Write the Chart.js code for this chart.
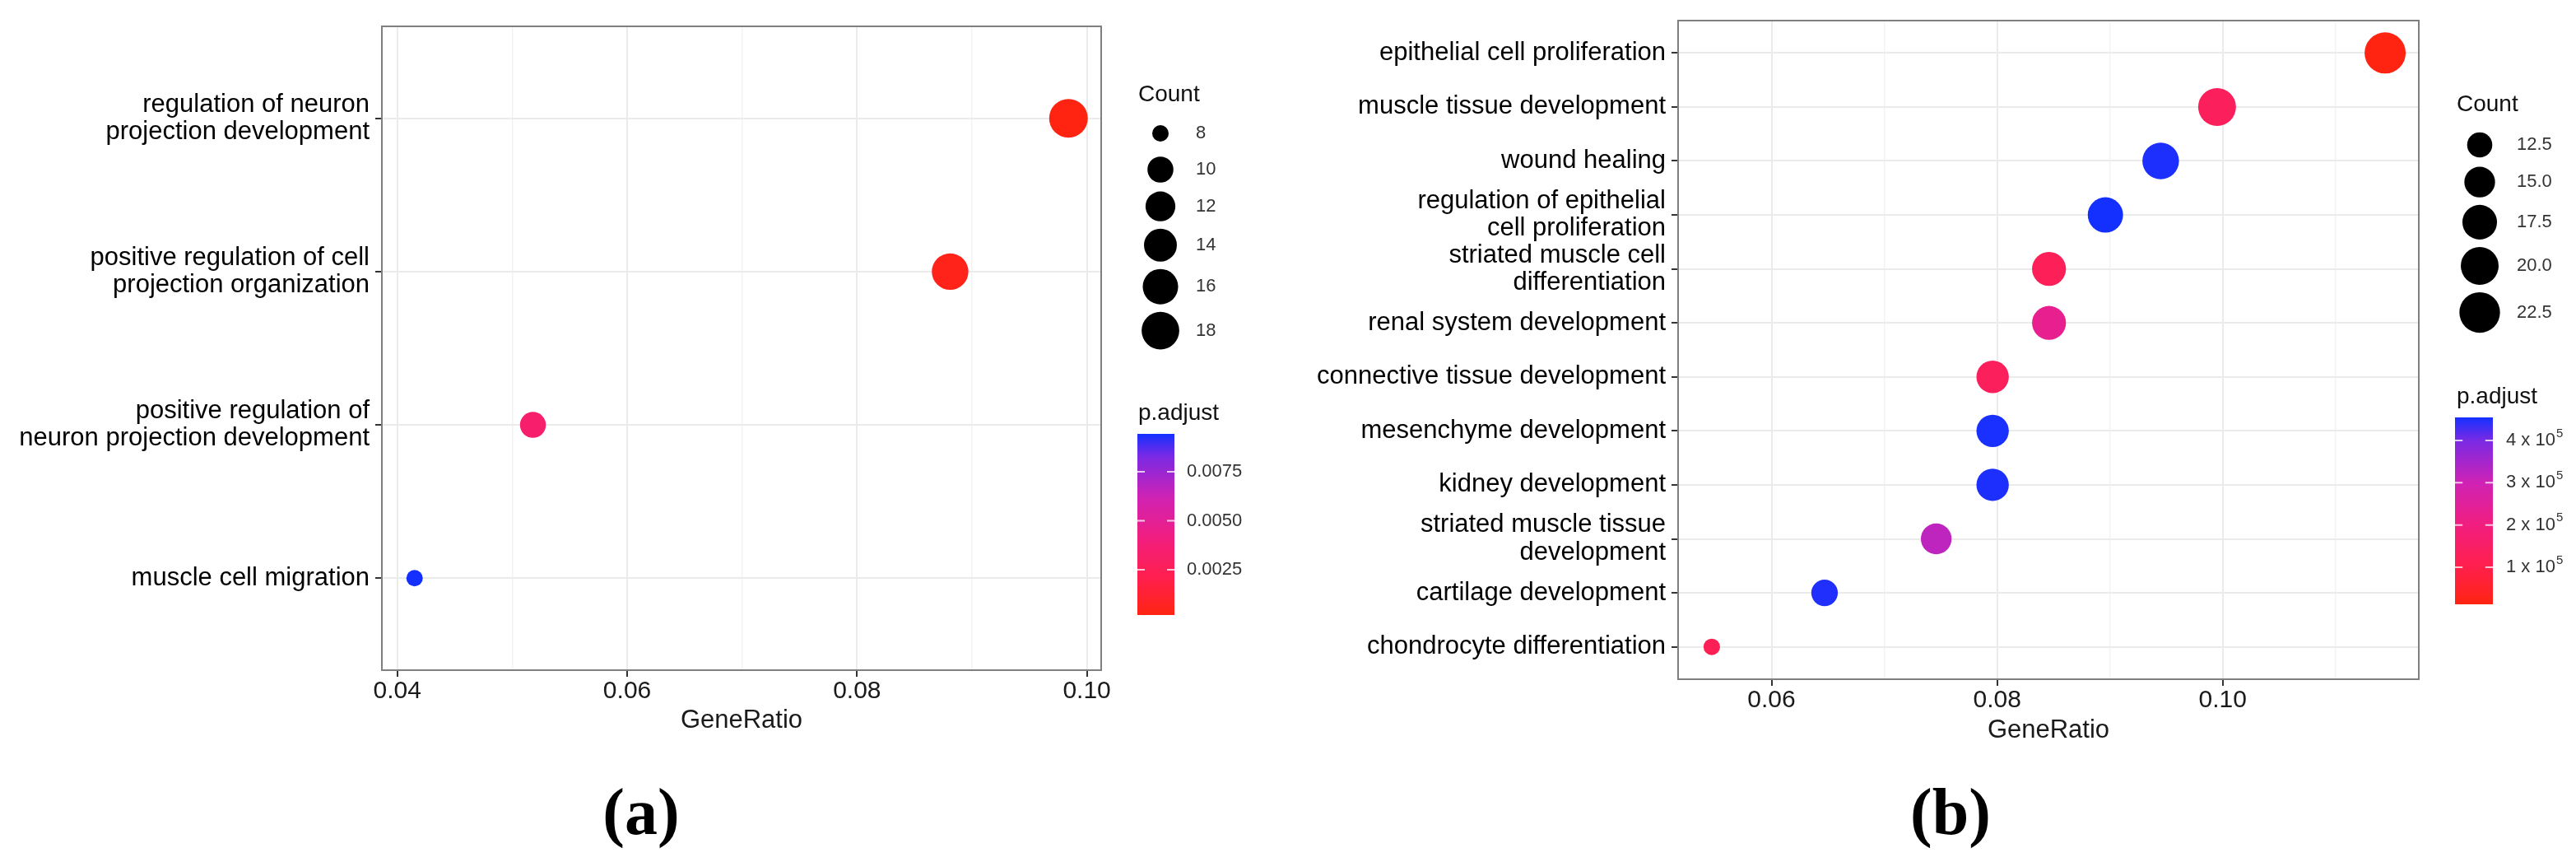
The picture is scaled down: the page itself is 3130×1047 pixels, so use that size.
<!DOCTYPE html>
<html>
<head>
<meta charset="utf-8">
<script src="https://cdn.jsdelivr.net/npm/chart.js@4.4.0/dist/chart.umd.min.js"></script>
<style>
  html, body { margin: 0; padding: 0; background: #fff; }
  #page { position: relative; width: 3130px; height: 1047px; overflow: hidden; background: #fff; }
  canvas { position: absolute; top: 0; }
  #chartA { left: 0; }
  #chartB { left: 1580px; }
  .tag { position: absolute; top: 938px; font-family: 'Liberation Serif', serif; font-weight: bold;
         font-size: 80px; line-height: 96px; transform: translateX(-50%); color: #000; }
</style>
</head>
<body>
<div id="page">
  <canvas id="chartA" width="1580" height="1047"></canvas>
  <canvas id="chartB" width="1550" height="1047"></canvas>
  <div class="tag" style="left:779px">(a)</div>
  <div class="tag" style="left:2370px">(b)</div>
</div>
<script>
// ---- panel (a) ----
const termsA = [
    'regulation of neuron\nprojection development',
    'positive regulation of cell\nprojection organization',
    'positive regulation of\nneuron projection development',
    'muscle cell migration'
];
const geneRatioA = [0.0984, 0.0881, 0.0518, 0.0415];
const countA = [19, 17, 10, 8];
const pAdjA = [0.00019, 0.0004, 0.0033, 0.00943];
const xTicksA = [0.04, 0.05, 0.06, 0.07, 0.08, 0.09, 0.10];
const xTickLabelsA = ['0.04', '', '0.06', '', '0.08', '', '0.10'];
const countBreaksA = [8, 10, 12, 14, 16, 18];
const countBreakLabelsA = ['8', '10', '12', '14', '16', '18'];
const pBreaksA = [0.0025, 0.005, 0.0075];
const pBreakLabelsA = ['0.0025', '0.0050', '0.0075'];

// ---- panel (b) ----
const termsB = [
    'epithelial cell proliferation',
    'muscle tissue development',
    'wound healing',
    'regulation of epithelial\ncell proliferation',
    'striated muscle cell\ndifferentiation',
    'renal system development',
    'connective tissue development',
    'mesenchyme development',
    'kidney development',
    'striated muscle tissue\ndevelopment',
    'cartilage development',
    'chondrocyte differentiation'
];
const geneRatioB = [0.1144, 0.0995, 0.0945, 0.0896, 0.0846, 0.0846, 0.0796, 0.0796, 0.0796, 0.0746, 0.0647, 0.0547];
const countB = [23, 20, 19, 18, 17, 17, 16, 16, 16, 15, 13, 11];
const pAdjB = [0.123, 1.3, 4.5, 4.546, 1.25, 2.3, 1.3, 4.52, 4.5, 3.2, 4.48, 1.2];
const xTicksB = [0.06, 0.07, 0.08, 0.09, 0.10, 0.11];
const xTickLabelsB = ['0.06', '', '0.08', '', '0.10', ''];
const countBreaksB = [12.5, 15, 17.5, 20, 22.5];
const countBreakLabelsB = ['12.5', '15.0', '17.5', '20.0', '22.5'];
const pBreaksB = [1, 2, 3, 4];
const pBreakLabelsB = ['1 x 10^5', '2 x 10^5', '3 x 10^5', '4 x 10^5'];

Chart.defaults.font.family = '"Liberation Sans", Arial, sans-serif';
Chart.defaults.color = '#000';

// red -> blue colour ramp, stops taken from the printed colour bar
const rampStops = [
    [0, [255, 36, 18]],
    [0.2, [255, 31, 76]],
    [0.42, [242, 30, 126]],
    [0.65, [207, 34, 180]],
    [0.876, [122, 42, 228]],
    [1, [20, 48, 255]]
];
function gradColor(t) {
    t = Math.min(1, Math.max(0, t));
    for (let k = 1; k < rampStops.length; k++) {
        const [t1, c1] = rampStops[k];
        const [t0, c0] = rampStops[k - 1];
        if (t <= t1) {
            const f = (t - t0) / (t1 - t0);
            const c = c0.map((v, j) => Math.round(v + (c1[j] - v) * f));
            return 'rgb(' + c.join(',') + ')';
        }
    }
    return 'rgb(' + rampStops[rampStops.length - 1][1].join(',') + ')';
}

function drawLabel(ctx, text, x, y, size) {
    const parts = text.split('^');
    ctx.font = size + 'px "Liberation Sans", Arial, sans-serif';
    ctx.fillText(parts[0], x, y);
    if (parts[1]) {
        const w = ctx.measureText(parts[0]).width;
        ctx.font = Math.round(size * 0.68) + 'px "Liberation Sans", Arial, sans-serif';
        ctx.fillText(parts[1], x + w + 1, y - size * 0.38);
    }
}

// legends (size keys + colour bar), drawn in the right margin
const ggLegend = {
    id: 'ggLegend',
    afterDraw(chart, args, o) {
        const ctx = chart.ctx;
        ctx.save();
        ctx.textBaseline = 'middle';
        ctx.textAlign = 'left';
        ctx.fillStyle = '#111';
        ctx.font = '28px "Liberation Sans", Arial, sans-serif';
        ctx.fillText('Count', o.titleX, o.countTitleY);

        const radii = o.countBreaks.map(c => o.sizeOf(c));
        const h = radii.map(r => Math.max(2 * r + 9, 44));
        let cy = o.firstKeyY;
        radii.forEach((r, i) => {
            if (i > 0) cy += (h[i - 1] + h[i]) / 2;
            ctx.fillStyle = '#000';
            ctx.beginPath();
            ctx.arc(o.keyX, cy, r, 0, Math.PI * 2);
            ctx.fill();
            ctx.fillStyle = '#333';
            drawLabel(ctx, o.countLabels[i], o.countLabelX, cy, 22);
        });

        ctx.fillStyle = '#111';
        ctx.font = '28px "Liberation Sans", Arial, sans-serif';
        ctx.fillText('p.adjust', o.titleX, o.pTitleY);

        const g = ctx.createLinearGradient(0, o.barBottom, 0, o.barTop);
        for (let k = 0; k <= 40; k++) g.addColorStop(k / 40, gradColor(k / 40));
        ctx.fillStyle = g;
        ctx.fillRect(o.barX, o.barTop, o.barW, o.barBottom - o.barTop);

        const yOf = p => o.barBottom - (p - o.pMin) / (o.pMax - o.pMin) * (o.barBottom - o.barTop);
        o.pBreaks.forEach((p, i) => {
            const y = yOf(p);
            ctx.strokeStyle = 'rgba(255,255,255,0.75)';
            ctx.lineWidth = 2;
            ctx.beginPath();
            ctx.moveTo(o.barX, y); ctx.lineTo(o.barX + o.barW / 5, y);
            ctx.moveTo(o.barX + o.barW, y); ctx.lineTo(o.barX + o.barW * 4 / 5, y);
            ctx.stroke();
            ctx.fillStyle = '#333';
            drawLabel(ctx, o.pLabels[i], o.pLabelX, y, 22);
        });
        ctx.restore();
    }
};

const panelBorder = {
    id: 'panelBorder',
    afterDatasetsDraw(chart) {
        const { ctx, chartArea: a } = chart;
        ctx.save();
        ctx.strokeStyle = '#7f7f7f';
        ctx.lineWidth = 2;
        ctx.strokeRect(a.left, a.top, a.right - a.left, a.bottom - a.top);
        ctx.restore();
    }
};

function makeDotPlot(canvasId, cfg) {
    const n = cfg.terms.length;
    const gMin = Math.min(...cfg.ratio), gMax = Math.max(...cfg.ratio);
    const xPad = (gMax - gMin) * 0.05;
    const cLo = Math.min(...cfg.count), cHi = Math.max(...cfg.count);
    const pMin = Math.min(...cfg.pAdj), pMax = Math.max(...cfg.pAdj);
    const sizeOf = c => cfg.sizeRange[0] + (cfg.sizeRange[1] - cfg.sizeRange[0]) * Math.sqrt(Math.max(0, (c - cLo) / (cHi - cLo)));
    const colorOf = p => gradColor((p - pMin) / (pMax - pMin));

    return new Chart(document.getElementById(canvasId), {
        type: 'scatter',
        data: {
            datasets: [{
                data: cfg.ratio.map((x, i) => ({ x: x, y: i })),
                pointRadius: cfg.count.map(sizeOf),
                pointHoverRadius: cfg.count.map(sizeOf),
                pointBackgroundColor: cfg.pAdj.map(colorOf),
                pointBorderWidth: 0,
                pointBorderColor: 'rgba(0,0,0,0)',
                clip: false
            }]
        },
        options: {
            responsive: false,
            animation: false,
            devicePixelRatio: 1,
            layout: { padding: cfg.padding },
            plugins: {
                legend: { display: false },
                tooltip: { enabled: false },
                ggLegend: Object.assign({ sizeOf: sizeOf, pMin: pMin, pMax: pMax }, cfg.legend)
            },
            scales: {
                x: {
                    type: 'linear',
                    min: gMin - xPad,
                    max: gMax + xPad,
                    afterBuildTicks: s => { s.ticks = cfg.xTicks.map(v => ({ value: v })); },
                    afterFit: s => { s.height = cfg.xAxisHeight; },
                    ticks: {
                        autoSkip: false,
                        maxRotation: 0,
                        padding: 0,
                        color: '#1a1a1a',
                        font: { size: 30 },
                        callback: (v, i) => cfg.xTickLabels[i]
                    },
                    grid: {
                        color: c => cfg.xTickLabels[c.index] ? '#ebebeb' : '#f3f3f3',
                        lineWidth: c => cfg.xTickLabels[c.index] ? 2 : 1.5,
                        tickLength: 8,
                        tickWidth: 2,
                        tickColor: c => cfg.xTickLabels[c.index] ? '#333' : 'rgba(0,0,0,0)'
                    },
                    border: { display: false },
                    title: { display: true, text: 'GeneRatio', color: '#1a1a1a', font: { size: 31 }, padding: 0 }
                },
                y: {
                    type: 'linear',
                    reverse: true,
                    min: -0.6,
                    max: n - 0.4,
                    afterBuildTicks: s => { s.ticks = cfg.terms.map((t, i) => ({ value: i })); },
                    afterFit: s => { s.width = cfg.yAxisWidth; },
                    ticks: {
                        autoSkip: false,
                        padding: 7,
                        color: '#000',
                        font: { size: 31, lineHeight: 1.07 },
                        callback: v => cfg.terms[v] ? cfg.terms[v].split('\n') : ''
                    },
                    grid: { color: '#ebebeb', lineWidth: 2, tickLength: 8, tickWidth: 2, tickColor: '#333' },
                    border: { display: false }
                }
            }
        },
        plugins: [panelBorder, ggLegend]
    });
}

makeDotPlot('chartA', {
    terms: termsA, ratio: geneRatioA, count: countA, pAdj: pAdjA,
    xTicks: xTicksA, xTickLabels: xTickLabelsA,
    sizeRange: [10, 23.5],
    padding: { left: 0, top: 32, right: 242, bottom: 153 },
    yAxisWidth: 464, xAxisHeight: 80,
    legend: {
        titleX: 1383, countTitleY: 115, firstKeyY: 162, keyX: 1410, countLabelX: 1453,
        countBreaks: countBreaksA, countLabels: countBreakLabelsA,
        pTitleY: 502, barX: 1382, barW: 45, barTop: 527, barBottom: 747, pLabelX: 1442,
        pBreaks: pBreaksA, pLabels: pBreakLabelsA
    }
});

makeDotPlot('chartB', {
    terms: termsB, ratio: geneRatioB, count: countB, pAdj: pAdjB,
    xTicks: xTicksB, xTickLabels: xTickLabelsB,
    sizeRange: [10, 25],
    padding: { left: 0, top: 21, right: 191, bottom: 141 },
    yAxisWidth: 459, xAxisHeight: 81,
    legend: {
        titleX: 1405, countTitleY: 127, firstKeyY: 176, keyX: 1433, countLabelX: 1478,
        countBreaks: countBreaksB, countLabels: countBreakLabelsB,
        pTitleY: 482, barX: 1403, barW: 46, barTop: 507, barBottom: 734, pLabelX: 1465,
        pBreaks: pBreaksB, pLabels: pBreakLabelsB
    }
});
</script>
</body>
</html>
